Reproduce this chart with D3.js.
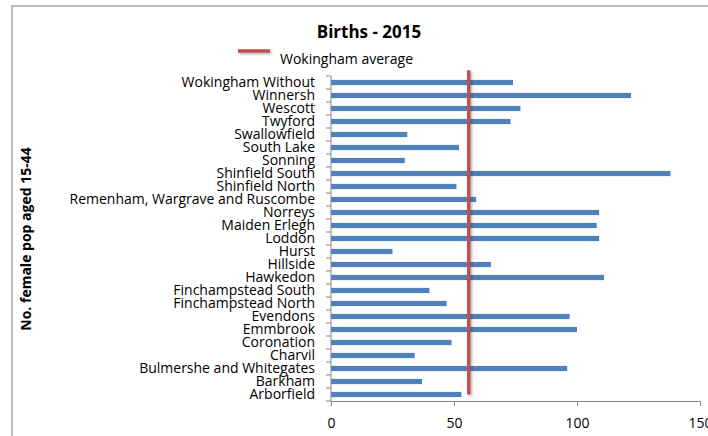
<!DOCTYPE html>
<html>
<head>
<meta charset="utf-8">
<script src="https://cdn.jsdelivr.net/npm/d3@7"></script>
<style>
  html, body { margin: 0; padding: 0; background: #fff; }
  svg { display: block; font-family: "Open Sans", "Noto Sans", sans-serif; }
</style>
</head>
<body>
<div id="chart"></div>
<script>
// 数据：从下到上（Excel 条形图顺序）
const wards = [
  'Arborfield', 'Barkham', 'Bulmershe and Whitegates', 'Charvil', 'Coronation',
  'Emmbrook', 'Evendons', 'Finchampstead North', 'Finchampstead South', 'Hawkedon',
  'Hillside', 'Hurst', 'Loddon', 'Maiden Erlegh', 'Norreys',
  'Remenham, Wargrave and Ruscombe', 'Shinfield North', 'Shinfield South', 'Sonning', 'South Lake',
  'Swallowfield', 'Twyford', 'Wescott', 'Winnersh', 'Wokingham Without'
]
const births = [
  53, 37, 96, 34, 49,
  100, 97, 47, 40, 111,
  65, 25, 109, 108, 109,
  59, 51, 138, 30, 52,
  31, 73, 77, 122, 74
]
const average = 56
const xTicks = [0, 50, 100, 150]

const width = 708, height = 436
const margin = { top: 76, left: 331 }
const plotBottom = 401
const font = '"Open Sans", "Noto Sans", sans-serif'

const svg = d3.select('#chart').append('svg')
  .attr('width', width)
  .attr('height', height)

// 阴影（用 userSpaceOnUse，竖线的 bbox 宽度为 0）
const shadow = svg.append('defs').append('filter').attr('id', 'shadow')
  .attr('filterUnits', 'userSpaceOnUse')
  .attr('x', 0).attr('y', 0).attr('width', width).attr('height', height)
shadow.append('feDropShadow')
  .attr('dx', 1.5).attr('dy', 1.5).attr('stdDeviation', 1.2)
  .attr('flood-color', '#000').attr('flood-opacity', 0.3)

// 外框
svg.append('rect')
  .attr('x', 12).attr('y', 6)
  .attr('width', 720).attr('height', 460)
  .attr('fill', '#fff')
  .attr('stroke', '#a6a6a6')
  .attr('stroke-width', 1.5)

const x = d3.scaleLinear().domain([0, 150]).range([margin.left, 700])
const y = d3.scaleBand()
  .domain(wards.slice().reverse())
  .range([margin.top, plotBottom])
  .paddingInner(0.6)
  .paddingOuter(0.3)
const band = d3.scaleLinear().domain([0, wards.length]).range([margin.top, plotBottom])

// 条形
svg.append('g')
  .selectAll('rect')
  .data(wards)
  .join('rect')
  .attr('x', x(0))
  .attr('y', d => y(d))
  .attr('height', y.bandwidth())
  .attr('width', (d, i) => x(births[i]) - x(0))
  .attr('fill', '#4f81bd')

// x 轴
const xAxis = svg.append('g')
  .attr('transform', `translate(0,${plotBottom})`)
  .call(d3.axisBottom(x).tickValues(xTicks).tickSize(5).tickPadding(12).tickSizeOuter(0))
  .attr('font-family', font)
xAxis.select('.domain').attr('stroke', '#888')
xAxis.selectAll('.tick line').attr('stroke', '#888')
xAxis.selectAll('text').attr('fill', '#000').style('font-size', '14px')

// y 轴
const yAxis = svg.append('g')
  .attr('transform', `translate(${margin.left},0)`)
  .call(d3.axisLeft(y).tickSize(0).tickPadding(16))
  .attr('font-family', font)
yAxis.select('.domain').attr('stroke', '#888').attr('d', `M0,${margin.top}V${plotBottom}`)
yAxis.selectAll('text').attr('fill', '#000').style('font-size', '14px').attr('dy', '0.34em')

// 类别刻度线
svg.append('g')
  .selectAll('line')
  .data(d3.range(wards.length + 1))
  .join('line')
  .attr('x1', margin.left - 5).attr('x2', margin.left)
  .attr('y1', d => band(d)).attr('y2', d => band(d))
  .attr('stroke', '#888')

// 平均线
svg.append('line')
  .attr('x1', x(average)).attr('x2', x(average))
  .attr('y1', band(-0.45)).attr('y2', band(wards.length - 0.5))
  .attr('stroke', '#c0504d')
  .attr('stroke-width', 3.5)
  .attr('filter', 'url(#shadow)')

// 标题
svg.append('text')
  .attr('x', 369).attr('y', 38)
  .attr('text-anchor', 'middle')
  .style('font-size', '17px')
  .style('font-weight', 'bold')
  .text('Births - 2015')

// 图例
svg.append('line')
  .attr('x1', 238).attr('x2', 270)
  .attr('y1', 51).attr('y2', 51)
  .attr('stroke', '#c0504d')
  .attr('stroke-width', 3.5)
  .attr('filter', 'url(#shadow)')
svg.append('text')
  .attr('x', 280).attr('y', 64)
  .style('font-size', '14px')
  .text('Wokingham average')

// y 轴标题
svg.append('text')
  .attr('transform', 'translate(31,239) rotate(-90)')
  .attr('text-anchor', 'middle')
  .style('font-size', '14px')
  .style('font-weight', 'bold')
  .text('No. female pop aged 15-44')
</script>
</body>
</html>
